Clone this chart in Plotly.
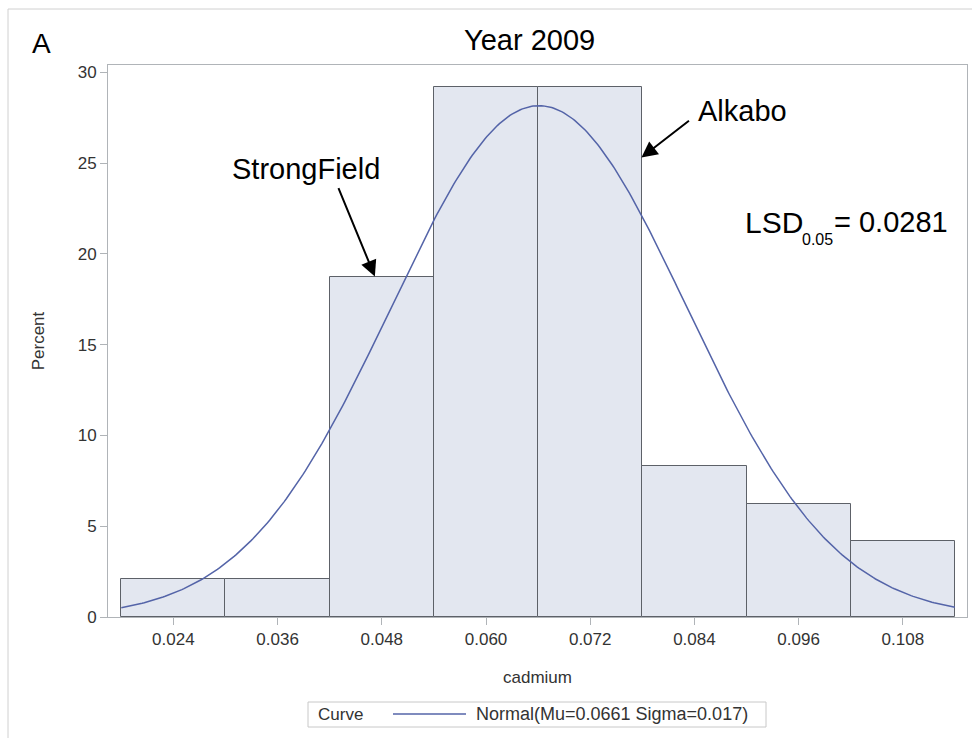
import numpy as np
import plotly.graph_objects as go

# Histogram of cadmium (percent of samples per bin)
bin_mid = [0.024, 0.036, 0.048, 0.060, 0.072, 0.084, 0.096, 0.108]
bin_pct = [2.08, 2.08, 18.75, 29.17, 29.17, 8.33, 6.25, 4.17]
tick_text = ["0.024", "0.036", "0.048", "0.060", "0.072", "0.084", "0.096", "0.108"]
y_ticks = [0, 5, 10, 15, 20, 25, 30]

# Fitted normal curve parameters
mu = 0.0661
sigma = 0.017
bin_width = 0.012

# Annotated sample positions (x, percent)
strongfield_pt = (0.0472, 18.75)
alkabo_pt = (0.0779, 25.3)
lsd_value = "0.0281"

curve_x = np.linspace(bin_mid[0] - bin_width / 2, bin_mid[-1] + bin_width / 2, 400)
curve_y = 100 * bin_width * np.exp(-0.5 * ((curve_x - mu) / sigma) ** 2) / (sigma * np.sqrt(2 * np.pi))

FONT = "Liberation Sans, Arial, sans-serif"
CURVE_COLOR = "#5464a8"
TEXT_GREY = "#333333"

fig = go.Figure()
fig.add_trace(go.Bar(
    x=bin_mid, y=bin_pct, width=bin_width,
    marker=dict(color="#e3e7f0", line=dict(color="#5d6168", width=1)),
    showlegend=False, hoverinfo="skip",
))
fig.add_trace(go.Scatter(
    x=curve_x, y=curve_y, mode="lines",
    line=dict(color=CURVE_COLOR, width=1.5),
    name=f"Normal(Mu={mu} Sigma={sigma})", showlegend=False,
))

# plot area in pixels: x 108..967, y 65..617
L, R, T, B = 108, 967, 65, 617
def px(x):
    return (x - L) / (R - L)
def py(y):
    return (B - y) / (B - T)

def label(text, x, y, size, xanchor="center", color="black"):
    return dict(text=text, x=px(x), y=py(y), xref="paper", yref="paper",
                xanchor=xanchor, yanchor="middle", showarrow=False,
                font=dict(size=size, color=color, family=FONT))

ann = [
    label("A", 41, 43, 28),
    label("Year 2009", 529, 40, 29),
    label("StrongField", 306, 169, 29),
    label("Alkabo", 742, 111, 29),
    # LSD statement
    label("LSD", 743, 222, 30, xanchor="left"),
    label("0.05", 800, 240, 16, xanchor="left"),
    label("= " + lsd_value, 832, 222, 29, xanchor="left"),
]
# arrows pointing at the two named samples
ann.append(dict(text="", x=strongfield_pt[0], y=strongfield_pt[1], xref="x", yref="y",
                ax=-37, ay=-90, showarrow=True, arrowhead=2, arrowsize=1.6,
                arrowwidth=2, arrowcolor="black"))
ann.append(dict(text="", x=alkabo_pt[0], y=alkabo_pt[1], xref="x", yref="y",
                ax=49, ay=-38, showarrow=True, arrowhead=2, arrowsize=1.6,
                arrowwidth=2, arrowcolor="black"))

# legend box below the axis
leg_y = 714
ann.append(label("Curve", 316, leg_y, 17, xanchor="left", color=TEXT_GREY))
ann.append(label(f"Normal(Mu={mu} Sigma={sigma})", 474, leg_y, 18, xanchor="left", color=TEXT_GREY))

shapes = [
    dict(type="rect", xref="paper", yref="paper",
         x0=px(8), x1=px(990), y0=py(760), y1=py(9),
         line=dict(color="#d0d0d0", width=1), layer="below"),
    dict(type="rect", xref="paper", yref="paper",
         x0=px(308), x1=px(766), y0=py(727), y1=py(702),
         line=dict(color="#c8c8c8", width=1), fillcolor="white"),
    dict(type="line", xref="paper", yref="paper",
         x0=px(393), x1=px(466), y0=py(leg_y), y1=py(leg_y),
         line=dict(color=CURVE_COLOR, width=1.5)),
]

fig.update_layout(
    width=972, height=738,
    margin=dict(l=L, r=972 - R, t=T, b=738 - B),
    paper_bgcolor="white", plot_bgcolor="white",
    bargap=0,
    font=dict(family=FONT, color=TEXT_GREY, size=15),
    annotations=ann,
    shapes=shapes,
    showlegend=False,
    xaxis=dict(range=[0.01647, 0.11539], tickvals=bin_mid, ticktext=tick_text,
               ticks="outside", ticklen=7, tickcolor="#b0b4b8",
               showline=True, linecolor="#b0b4b8", linewidth=1, mirror=True,
               showgrid=False, zeroline=False,
               tickfont=dict(size=17, color=TEXT_GREY),
               title=dict(text="cadmium", font=dict(size=17, color=TEXT_GREY), standoff=22)),
    yaxis=dict(range=[0, 30.4], tickvals=y_ticks,
               ticks="outside", ticklen=7, tickcolor="#b0b4b8",
               showline=True, linecolor="#b0b4b8", linewidth=1, mirror=True,
               showgrid=False, zeroline=False,
               tickfont=dict(size=17, color=TEXT_GREY),
               title=dict(text="Percent", font=dict(size=17, color=TEXT_GREY), standoff=28)),
)

fig.write_html("out.html")
